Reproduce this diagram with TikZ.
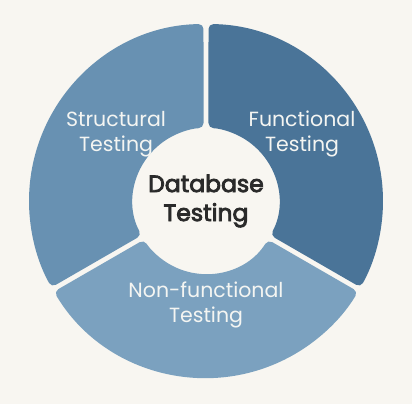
\documentclass[tikz,border=0pt]{standalone}
\usepackage{fontspec}
\setmainfont{Poppins}
\newfontfamily\hubfont[FakeBold=3.5]{Poppins}
\definecolor{bgcream}{HTML}{F8F6F1}
\definecolor{funcblue}{HTML}{4A7498}
\definecolor{structblue}{HTML}{6891B2}
\definecolor{nonfuncblue}{HTML}{7BA1BF}
\definecolor{labelwhite}{HTML}{F4F5F2}
\definecolor{hubtext}{HTML}{2A2A2A}
\tikzset{
  segment/.style={rounded corners=5pt},
  seglabel/.style={text=labelwhite, align=center, font=\fontsize{20.5}{25}\selectfont},
  hublabel/.style={text=hubtext, align=center, font=\hubfont\fontsize{23.5}{29}\selectfont}
}
\begin{document}
\begin{tikzpicture}[x=1pt,y=1pt]
  \fill[bgcream] (-206,-203) rectangle (206,201);
  \useasboundingbox (-206,-203) rectangle (206,201);
  \fill[funcblue, segment] (89.19:177) arc[start angle=89.19, end angle=-29.19, radius=177]
    -- (-28.04:73) arc[start angle=-28.04, end angle=88.04, radius=73] -- cycle;
  \fill[structblue, segment] (90.81:177) arc[start angle=90.81, end angle=209.19, radius=177]
    -- (208.04:73) arc[start angle=208.04, end angle=91.96, radius=73] -- cycle;
  \fill[nonfuncblue, segment] (210.81:177) arc[start angle=210.81, end angle=329.19, radius=177]
    -- (328.04:73) arc[start angle=328.04, end angle=211.96, radius=73] -- cycle;
  \node[hublabel] (hub) at (0,0) {Database\\Testing};
  \node[seglabel] (structural) at (-90,67) {Structural\\Testing};
  \node[seglabel] (functional) at (96,67) {Functional\\Testing};
  \node[seglabel] (nonfunctional) at (0,-104) {Non-functional\\Testing};
\end{tikzpicture}
\end{document}
